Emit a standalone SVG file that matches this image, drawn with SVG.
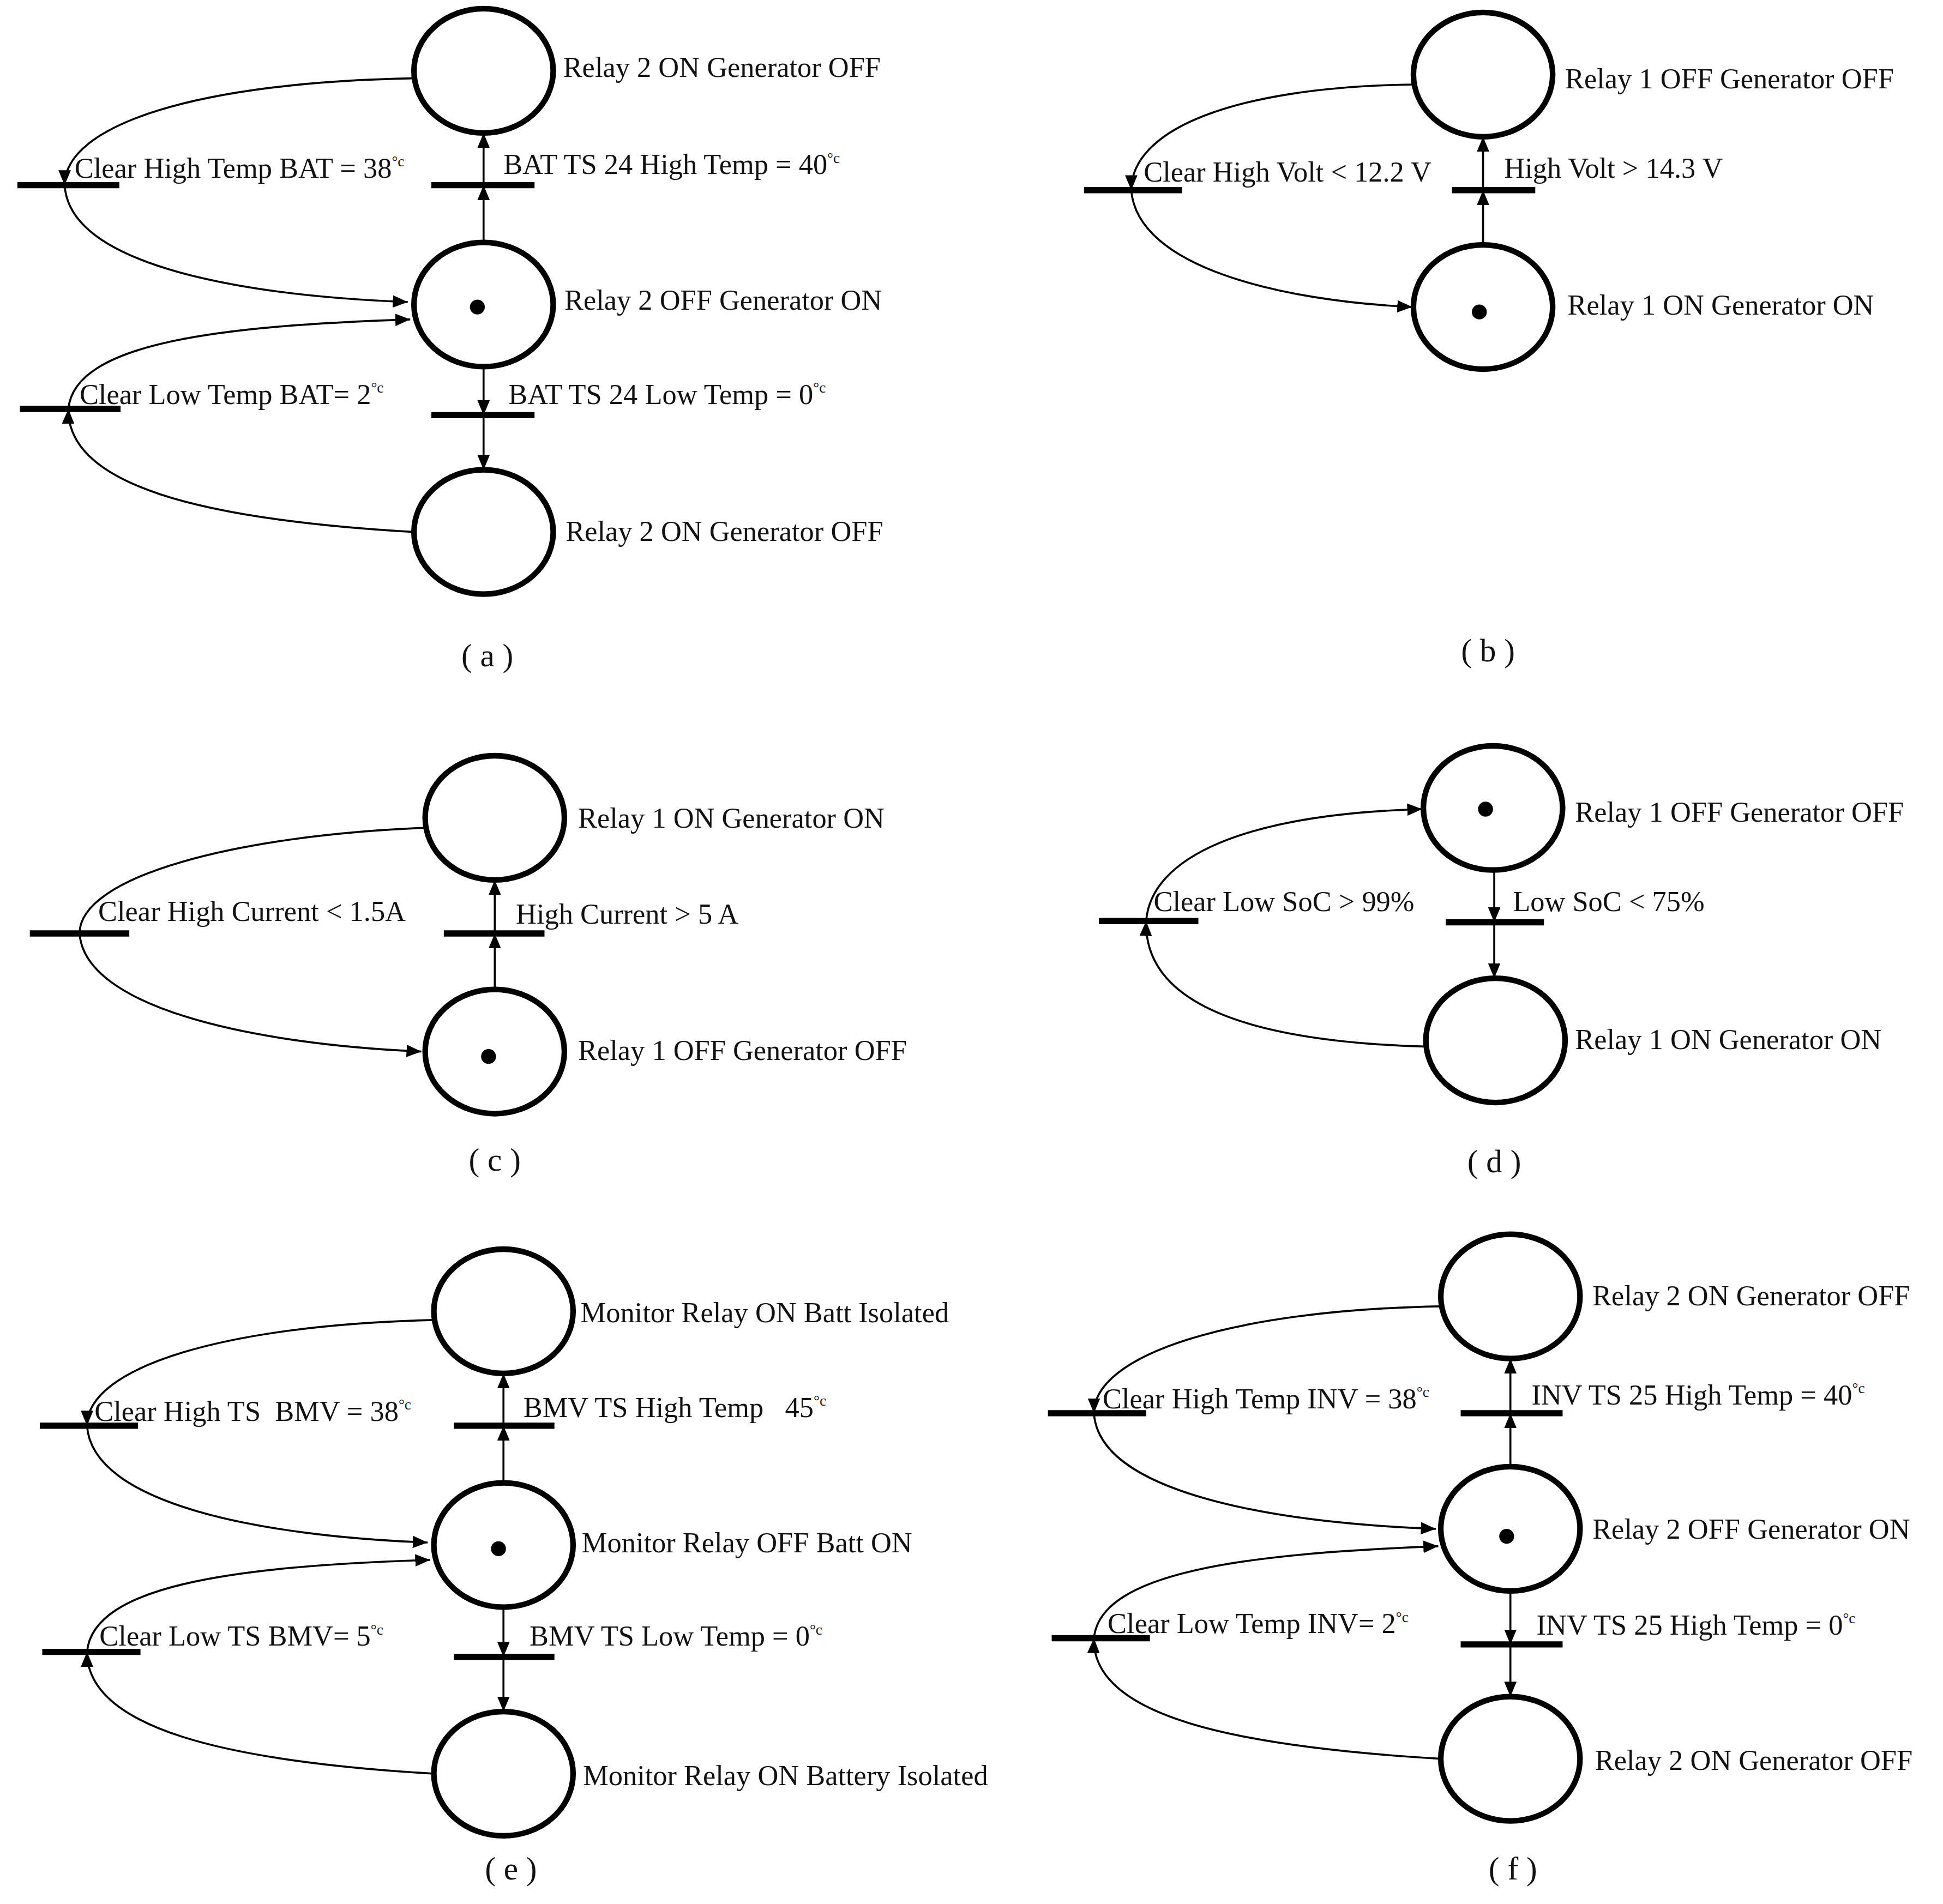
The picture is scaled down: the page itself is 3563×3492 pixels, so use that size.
<svg xmlns="http://www.w3.org/2000/svg" width="3563" height="3492" viewBox="0 0 3563 3492">
<style>
.pl{fill:none;stroke:#000;stroke-width:4.5}
.tk{fill:#000}
.tr{stroke:#000;stroke-width:5}
.ar{fill:none;stroke:#000;stroke-width:1.6;marker-end:url(#ah)}
.ln{fill:none;stroke:#000;stroke-width:1.6}
text{font-family:"Liberation Serif",serif;font-size:23px;fill:#111}
.cap{font-size:26px;text-anchor:middle}
.sp{font-size:12px}
</style>
<defs>
<marker id="ah" viewBox="0 0 12 10" refX="12" refY="5" markerWidth="12" markerHeight="10" markerUnits="userSpaceOnUse" orient="auto"><path d="M0,0L12,5L0,10z" fill="#000"/></marker>
</defs>
<rect width="3563" height="3492" fill="#fff"/>
<g transform="scale(2.2796)">
<!-- panel a -->
<g id="a-nodes">
<g id="a-p1"><ellipse class="pl" cx="389" cy="57" rx="56" ry="50"/><text x="453" y="62">Relay 2 ON Generator OFF</text></g>
<g id="a-p2"><ellipse class="pl" cx="389" cy="245" rx="56" ry="50"/><circle class="tk" cx="384" cy="247" r="6"/><text x="454" y="249">Relay 2 OFF Generator ON</text></g>
<g id="a-p3"><ellipse class="pl" cx="389" cy="428" rx="56" ry="50"/><text x="455" y="435">Relay 2 ON Generator OFF</text></g>
<g id="a-t1"><line class="tr" x1="347" y1="149" x2="430" y2="149"/><text x="405" y="140">BAT TS 24 High Temp = 40<tspan class="sp" dy="-9">°c</tspan></text></g>
<g id="a-t2"><line class="tr" x1="347" y1="334" x2="430" y2="334"/><text x="409" y="325">BAT TS 24 Low Temp = 0<tspan class="sp" dy="-9">°c</tspan></text></g>
<g id="a-t3"><line class="tr" x1="14" y1="149" x2="96" y2="149"/><text x="60" y="143">Clear High Temp BAT = 38<tspan class="sp" dy="-9">°c</tspan></text></g>
<g id="a-t4"><line class="tr" x1="16" y1="329" x2="97" y2="329"/><text x="64" y="325">Clear Low Temp BAT= 2<tspan class="sp" dy="-9">°c</tspan></text></g>
<text class="cap" x="392" y="536">( a )</text>
</g>
<g id="a-edges">
<path class="ar" d="M389,195V149"/><path class="ar" d="M389,149V107"/>
<path class="ar" d="M389,295V334"/><path class="ar" d="M389,334V378"/>
<path class="ar" d="M333,63C160,66 52,100 52,149"/><path class="ar" d="M52,149C56,215 200,238 328,243"/>
<path class="ar" d="M333,428C160,418 54,390 55,329"/><path class="ar" d="M55,329C60,275 180,262 330,257"/>
</g>
<!-- panel b -->
<g id="b-nodes">
<g id="b-p1"><ellipse class="pl" cx="1193" cy="60" rx="56" ry="50"/><text x="1259" y="71">Relay 1 OFF Generator OFF</text></g>
<g id="b-p2"><ellipse class="pl" cx="1193" cy="247" rx="56" ry="50"/><circle class="tk" cx="1190" cy="251" r="6"/><text x="1261" y="253">Relay 1 ON Generator ON</text></g>
<g id="b-t1"><line class="tr" x1="1168" y1="153" x2="1235" y2="153"/><text x="1210" y="143">High Volt &gt; 14.3 V</text></g>
<g id="b-t2"><line class="tr" x1="872" y1="153" x2="951" y2="153"/><text x="920" y="146">Clear High Volt &lt; 12.2 V</text></g>
<text class="cap" x="1197" y="532">( b )</text>
</g>
<g id="b-edges">
<path class="ar" d="M1193,197V153"/><path class="ar" d="M1193,153V110"/>
<path class="ar" d="M1137,68C990,70 910,105 910,153"/><path class="ar" d="M910,153C915,215 1030,242 1136,247"/>
</g>
<!-- panel c -->
<g id="c-nodes">
<g id="c-p1"><ellipse class="pl" cx="398" cy="658" rx="56" ry="50"/><text x="465" y="666">Relay 1 ON Generator ON</text></g>
<g id="c-p2"><ellipse class="pl" cx="398" cy="846" rx="56" ry="50"/><circle class="tk" cx="393" cy="850" r="6"/><text x="465" y="853">Relay 1 OFF Generator OFF</text></g>
<g id="c-t1"><line class="tr" x1="357" y1="751" x2="438" y2="751"/><text x="415" y="743">High Current &gt; 5 A</text></g>
<g id="c-t2"><line class="tr" x1="24" y1="751" x2="104" y2="751"/><text x="79" y="741">Clear High Current &lt;  1.5A</text></g>
<text class="cap" x="398" y="942">( c )</text>
</g>
<g id="c-edges">
<path class="ar" d="M398,796V751"/><path class="ar" d="M398,751V708"/>
<path class="ln" d="M342,666C190,672 64,705 64,751"/><path class="ar" d="M64,751C68,810 200,840 339,846"/>
</g>
<!-- panel d -->
<g id="d-nodes">
<g id="d-p1"><ellipse class="pl" cx="1201" cy="650" rx="56" ry="50"/><circle class="tk" cx="1195" cy="651" r="6"/><text x="1267" y="661">Relay 1 OFF Generator OFF</text></g>
<g id="d-p2"><ellipse class="pl" cx="1203" cy="837" rx="56" ry="50"/><text x="1267" y="844">Relay 1 ON Generator ON</text></g>
<g id="d-t1"><line class="tr" x1="1163" y1="742" x2="1242" y2="742"/><text x="1217" y="733">Low SoC &lt; 75%</text></g>
<g id="d-t2"><line class="tr" x1="884" y1="741" x2="964" y2="741"/><text x="928" y="733">Clear Low SoC &gt; 99%</text></g>
<text class="cap" x="1202" y="943">( d )</text>
</g>
<g id="d-edges">
<path class="ar" d="M1202,700V742"/><path class="ar" d="M1202,742V787"/>
<path class="ar" d="M1146,842C1010,838 920,810 922,741"/><path class="ar" d="M922,741C926,690 1000,655 1144,651"/>
</g>
<!-- panel e -->
<g id="e-nodes">
<g id="e-p1"><ellipse class="pl" cx="405" cy="1055" rx="56" ry="50"/><text x="467" y="1064">Monitor Relay ON Batt Isolated</text></g>
<g id="e-p2"><ellipse class="pl" cx="405" cy="1243" rx="56" ry="50"/><circle class="tk" cx="401" cy="1246" r="6"/><text x="468" y="1249">Monitor Relay OFF Batt ON</text></g>
<g id="e-p3"><ellipse class="pl" cx="405" cy="1427" rx="56" ry="50"/><text x="469" y="1436">Monitor Relay ON Battery Isolated</text></g>
<g id="e-t1"><line class="tr" x1="365" y1="1147" x2="446" y2="1147"/><text x="421" y="1140" xml:space="preserve">BMV TS High Temp   45<tspan class="sp" dy="-9">°c</tspan></text></g>
<g id="e-t2"><line class="tr" x1="365" y1="1333" x2="446" y2="1333"/><text x="426" y="1324">BMV TS Low Temp = 0<tspan class="sp" dy="-9">°c</tspan></text></g>
<g id="e-t3"><line class="tr" x1="32" y1="1147" x2="111" y2="1147"/><text x="76" y="1143" xml:space="preserve">Clear High TS  BMV = 38<tspan class="sp" dy="-9">°c</tspan></text></g>
<g id="e-t4"><line class="tr" x1="34" y1="1329" x2="113" y2="1329"/><text x="80" y="1324">Clear Low TS BMV= 5<tspan class="sp" dy="-9">°c</tspan></text></g>
<text class="cap" x="411" y="1512">( e )</text>
</g>
<g id="e-edges">
<path class="ar" d="M405,1193V1147"/><path class="ar" d="M405,1147V1105"/>
<path class="ar" d="M405,1293V1333"/><path class="ar" d="M405,1333V1377"/>
<path class="ar" d="M349,1062C180,1066 70,1100 70,1147"/><path class="ar" d="M70,1147C74,1210 210,1236 344,1241"/>
<path class="ar" d="M349,1427C180,1417 70,1390 70,1329"/><path class="ar" d="M70,1329C75,1275 190,1260 346,1255"/>
</g>
<!-- panel f -->
<g id="f-nodes">
<g id="f-p1"><ellipse class="pl" cx="1215" cy="1043" rx="56" ry="50"/><text x="1281" y="1050">Relay 2 ON Generator OFF</text></g>
<g id="f-p2"><ellipse class="pl" cx="1215" cy="1230" rx="56" ry="50"/><circle class="tk" cx="1212" cy="1236" r="6"/><text x="1281" y="1238">Relay 2 OFF Generator ON</text></g>
<g id="f-p3"><ellipse class="pl" cx="1215" cy="1415" rx="56" ry="50"/><text x="1283" y="1424">Relay 2 ON Generator OFF</text></g>
<g id="f-t1"><line class="tr" x1="1175" y1="1137" x2="1257" y2="1137"/><text x="1232" y="1130">INV TS 25 High Temp = 40<tspan class="sp" dy="-9">°c</tspan></text></g>
<g id="f-t2"><line class="tr" x1="1175" y1="1323" x2="1257" y2="1323"/><text x="1236" y="1315">INV TS 25 High Temp = 0<tspan class="sp" dy="-9">°c</tspan></text></g>
<g id="f-t3"><line class="tr" x1="843" y1="1137" x2="922" y2="1137"/><text x="887" y="1133">Clear High Temp INV = 38<tspan class="sp" dy="-9">°c</tspan></text></g>
<g id="f-t4"><line class="tr" x1="846" y1="1318" x2="925" y2="1318"/><text x="891" y="1314">Clear Low Temp INV= 2<tspan class="sp" dy="-9">°c</tspan></text></g>
<text class="cap" x="1217" y="1512">( f )</text>
</g>
<g id="f-edges">
<path class="ar" d="M1215,1180V1137"/><path class="ar" d="M1215,1137V1093"/>
<path class="ar" d="M1215,1280V1323"/><path class="ar" d="M1215,1323V1365"/>
<path class="ar" d="M1159,1051C990,1054 880,1090 880,1137"/><path class="ar" d="M880,1137C884,1200 1020,1225 1155,1230"/>
<path class="ar" d="M1159,1415C990,1405 878,1380 880,1318"/><path class="ar" d="M880,1318C885,1265 1000,1250 1157,1244"/>
</g>
</g>
</svg>
